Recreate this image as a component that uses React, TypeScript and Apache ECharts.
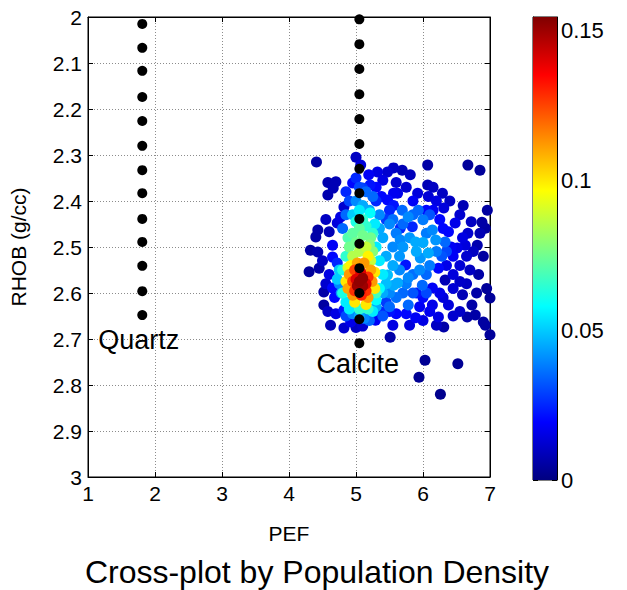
import React, { useEffect, useRef } from "react";
import * as echarts from "echarts";

// ---- data ----
const xTickValues = [1, 2, 3, 4, 5, 6, 7];
const yTickValues = [2, 2.1, 2.2, 2.3, 2.4, 2.5, 2.6, 2.7, 2.8, 2.9, 3];
const colorbarTicks = [0, 0.05, 0.1, 0.15];
const densityMax = 0.1544;

const quartzPef = 1.81;
const quartzRhob = [2.015, 2.067, 2.117, 2.174, 2.226, 2.28, 2.333, 2.383, 2.439, 2.489, 2.541, 2.596, 2.648];
const calcitePef = 5.05;
const calciteRhob = [2.005, 2.059, 2.113, 2.168, 2.222, 2.276, 2.33, 2.383, 2.439, 2.493, 2.546, 2.6, 2.657, 2.709];

const mineralLabels = [
  { name: "Quartz", pef: 1.153, rhob: 2.702 },
  { name: "Calcite", pef: 4.41, rhob: 2.754 },
];

// [PEF, RHOB, density]
const cloudOuter = [
  [4.41, 2.315, 0.005], [4.58, 2.36, 0.007], [4.7, 2.358, 0.008], [4.58, 2.387, 0.007], [4.66, 2.372, 0.008],
  [5.69, 2.333, 0.008], [5.81, 2.343, 0.009], [6.07, 2.322, 0.006], [6.07, 2.365, 0.008], [6.67, 2.322, 0.004], [6.85, 2.333, 0.004],
  [4.43, 2.463, 0.006], [4.4, 2.478, 0.006], [4.32, 2.507, 0.005], [4.43, 2.511, 0.007], [4.3, 2.554, 0.004], [4.45, 2.546, 0.006],
  [4.52, 2.598, 0.006], [4.52, 2.626, 0.005], [4.6, 2.467, 0.008],
  [6.96, 2.42, 0.005], [7.02, 2.42, 0.004], [6.88, 2.446, 0.006], [6.93, 2.459, 0.005], [6.81, 2.496, 0.007],
  [6.9, 2.52, 0.005], [6.83, 2.56, 0.006], [6.95, 2.59, 0.004], [6.8, 2.6, 0.006],
  [6.33, 2.572, 0.008], [6.59, 2.604, 0.008], [7.0, 2.611, 0.004], [6.73, 2.626, 0.006], [6.78, 2.648, 0.006], [6.9, 2.663, 0.005],
  [6.93, 2.67, 0.005], [7.0, 2.691, 0.004], [6.66, 2.652, 0.006], [6.31, 2.674, 0.006],
  [5.51, 2.696, 0.006], [6.03, 2.746, 0.003], [6.52, 2.754, 0.003], [5.94, 2.783, 0.003], [6.26, 2.82, 0.002],
  [5.0, 2.305, 0.01], [5.07, 2.322, 0.014],
  [6.6, 2.41, 0.008], [6.85, 2.47, 0.008], [4.55, 2.44, 0.01], [4.5, 2.53, 0.01], [4.58, 2.64, 0.01], [6.2, 2.67, 0.01],
];

const cloudBlue = [
  [5.19, 2.343, 0.018], [5.32, 2.337, 0.015], [5.47, 2.337, 0.012], [5.56, 2.328, 0.01], [5.1, 2.372, 0.028], [5.21, 2.365, 0.022],
  [4.95, 2.361, 0.02], [5.62, 2.383, 0.016], [5.92, 2.383, 0.014], [6.08, 2.39, 0.013], [6.29, 2.383, 0.01], [5.47, 2.398, 0.02],
  [5.56, 2.383, 0.017], [5.38, 2.39, 0.02], [5.3, 2.4, 0.025], [5.85, 2.4, 0.018], [6.2, 2.4, 0.015],
  [4.77, 2.435, 0.015], [4.72, 2.448, 0.014], [4.82, 2.413, 0.012], [6.31, 2.415, 0.014], [6.48, 2.448, 0.016], [6.38, 2.467, 0.02],
  [6.67, 2.47, 0.012], [6.55, 2.43, 0.012], [6.72, 2.445, 0.01], [6.25, 2.44, 0.02], [5.66, 2.459, 0.025], [5.84, 2.456, 0.025],
  [5.5, 2.42, 0.025], [5.45, 2.44, 0.028], [5.56, 2.41, 0.022], [6.05, 2.42, 0.02], [6.15, 2.42, 0.018],
  [4.65, 2.496, 0.018], [4.65, 2.522, 0.02], [4.72, 2.535, 0.025], [6.59, 2.48, 0.015], [6.51, 2.502, 0.016], [6.63, 2.496, 0.014],
  [6.75, 2.51, 0.01], [6.45, 2.52, 0.018], [6.23, 2.546, 0.02], [5.74, 2.539, 0.022], [6.35, 2.54, 0.016], [6.55, 2.54, 0.013], [6.7, 2.55, 0.01],
  [4.65, 2.589, 0.02], [6.14, 2.589, 0.018], [6.14, 2.626, 0.016], [6.38, 2.626, 0.014], [6.25, 2.6, 0.016], [6.45, 2.59, 0.013],
  [6.55, 2.575, 0.011], [6.0, 2.61, 0.02], [5.9, 2.6, 0.022], [4.6, 2.56, 0.015], [4.68, 2.61, 0.02],
  [4.82, 2.637, 0.022], [5.37, 2.641, 0.025], [4.82, 2.676, 0.012], [4.92, 2.663, 0.016], [5.21, 2.648, 0.02], [5.29, 2.659, 0.018],
  [5.89, 2.654, 0.018], [6.23, 2.652, 0.015], [5.5, 2.64, 0.022], [5.6, 2.645, 0.02], [5.75, 2.645, 0.02], [6.0, 2.66, 0.015],
  [6.1, 2.64, 0.017], [5.45, 2.62, 0.028], [6.45, 2.65, 0.012], [6.55, 2.64, 0.011], [4.62, 2.67, 0.008], [4.7, 2.645, 0.015],
  [5.1, 2.672, 0.012], [5.0, 2.675, 0.01],
  [5.4, 2.355, 0.015], [5.6, 2.36, 0.012], [5.75, 2.37, 0.012], [5.3, 2.37, 0.02], [6.15, 2.37, 0.01], [6.4, 2.4, 0.01],
  [6.65, 2.52, 0.012], [6.45, 2.56, 0.014], [6.65, 2.58, 0.01], [6.3, 2.61, 0.014], [5.8, 2.67, 0.014], [5.55, 2.67, 0.015],
  [4.55, 2.58, 0.012], [5.95, 2.63, 0.018], [6.3, 2.46, 0.02], [6.42, 2.5, 0.018],
];

const cloudLight = [
  [5.1, 2.41, 0.045], [5.2, 2.42, 0.045], [5.0, 2.4, 0.04], [5.15, 2.38, 0.035], [5.05, 2.37, 0.03], [4.9, 2.4, 0.03],
  [4.85, 2.43, 0.035], [5.35, 2.43, 0.04], [5.4, 2.48, 0.045], [5.45, 2.52, 0.045], [5.55, 2.5, 0.04], [5.6, 2.47, 0.038],
  [5.66, 2.485, 0.04], [5.69, 2.42, 0.035], [5.78, 2.435, 0.04], [5.93, 2.42, 0.035], [6.0, 2.441, 0.038], [5.7, 2.5, 0.042],
  [5.5, 2.45, 0.04], [5.8, 2.48, 0.042], [5.89, 2.489, 0.045], [5.9, 2.51, 0.045], [5.96, 2.524, 0.042], [6.08, 2.513, 0.045],
  [6.0, 2.49, 0.045], [6.14, 2.463, 0.04], [6.19, 2.485, 0.042], [6.33, 2.489, 0.035], [6.1, 2.54, 0.038], [6.2, 2.51, 0.038],
  [6.28, 2.52, 0.032], [5.65, 2.55, 0.04], [5.78, 2.567, 0.04], [5.75, 2.58, 0.038], [5.85, 2.56, 0.036], [5.99, 2.583, 0.035],
  [5.62, 2.578, 0.045], [5.78, 2.626, 0.035], [5.56, 2.583, 0.045], [5.47, 2.561, 0.048], [5.4, 2.6, 0.045], [5.5, 2.6, 0.04],
  [5.6, 2.61, 0.036], [5.4, 2.65, 0.032], [5.3, 2.63, 0.045], [4.8, 2.46, 0.035], [4.75, 2.58, 0.04], [4.78, 2.6, 0.042],
  [5.05, 2.65, 0.045], [5.12, 2.655, 0.04], [4.95, 2.645, 0.04], [5.25, 2.39, 0.035], [5.35, 2.46, 0.045], [4.85, 2.65, 0.03],
  [5.2, 2.66, 0.035], [6.05, 2.56, 0.035], [5.85, 2.6, 0.032], [6.35, 2.51, 0.03], [6.05, 2.6, 0.03],
  [5.55, 2.44, 0.036], [5.7, 2.45, 0.035], [5.85, 2.43, 0.035], [6.1, 2.43, 0.032], [6.05, 2.47, 0.038], [5.95, 2.55, 0.04],
  [5.55, 2.54, 0.045], [5.65, 2.52, 0.042], [5.7, 2.6, 0.035], [5.5, 2.63, 0.035], [5.45, 2.58, 0.048], [4.85, 2.38, 0.025],
  [5.0, 2.35, 0.025],
];

const cloudCore = [
  [5.28, 2.45, 0.055], [5.05, 2.42, 0.055], [4.95, 2.43, 0.05], [5.3, 2.5, 0.055], [5.35, 2.53, 0.055], [5.3, 2.615, 0.058],
  [4.85, 2.62, 0.055], [5.25, 2.64, 0.055], [5.21, 2.426, 0.058], [4.75, 2.55, 0.05], [4.72, 2.57, 0.05], [4.9, 2.635, 0.055],
  [5.35, 2.59, 0.058], [5.4, 2.56, 0.055],
  [5.15, 2.455, 0.065], [5.0, 2.445, 0.062], [5.1, 2.44, 0.065], [5.25, 2.47, 0.065], [4.85, 2.52, 0.065], [4.8, 2.55, 0.062],
  [4.8, 2.6, 0.062], [5.3, 2.6, 0.068], [5.05, 2.635, 0.065], [5.18, 2.635, 0.065], [4.88, 2.48, 0.07],
  [5.0, 2.49, 0.075], [5.1, 2.475, 0.075], [5.2, 2.495, 0.078], [4.95, 2.47, 0.072], [5.05, 2.46, 0.072], [5.25, 2.51, 0.078],
  [4.9, 2.5, 0.075], [5.22, 2.48, 0.075],
  [5.05, 2.51, 0.085], [5.15, 2.5, 0.088], [4.95, 2.52, 0.085], [5.22, 2.53, 0.088], [4.88, 2.545, 0.09],
  [4.85, 2.575, 0.1], [5.28, 2.59, 0.1], [5.28, 2.555, 0.1], [4.92, 2.54, 0.098], [5.18, 2.52, 0.098], [4.98, 2.62, 0.1], [5.15, 2.625, 0.1],
  [4.9, 2.56, 0.112], [4.88, 2.59, 0.11], [5.24, 2.575, 0.112], [5.22, 2.55, 0.11], [5.02, 2.535, 0.11], [5.12, 2.535, 0.112],
  [4.95, 2.605, 0.112], [5.18, 2.61, 0.112],
  [4.95, 2.575, 0.125], [5.18, 2.565, 0.128], [4.98, 2.55, 0.125], [5.15, 2.595, 0.128], [4.98, 2.595, 0.128], [5.08, 2.605, 0.13],
  [5.0, 2.57, 0.14], [5.15, 2.58, 0.14], [5.07, 2.555, 0.14], [5.06, 2.595, 0.142],
  [5.05, 2.575, 0.152], [5.1, 2.585, 0.15], [5.02, 2.585, 0.15], [5.1, 2.568, 0.152],
];

const jetColors = ["#000080", "#0000ff", "#0080ff", "#00ffff", "#80ff80", "#ffff00", "#ff8000", "#ff0000", "#800000"];

const FONT = "'Liberation Sans', Arial, Helvetica, sans-serif";

export default function App() {
  const ref = useRef<HTMLDivElement>(null);

  useEffect(() => {
    if (!ref.current) return;
    const chart = echarts.init(ref.current, undefined, { renderer: "svg" });

    const cloud = [...cloudOuter, ...cloudBlue, ...cloudLight, ...cloudCore]
      .slice()
      .sort((a, b) => a[2] - b[2]);

    const gradStops = jetColors.map((c, i) => ({ offset: i / (jetColors.length - 1), color: c }));

    const tickStyle = { show: true, inside: true, length: 5, lineStyle: { color: "#000", width: 1 } };

    const option: any = {
      animation: false,
      backgroundColor: "#fff",
      textStyle: { fontFamily: FONT },
      title: {
        text: "Cross-plot by Population Density",
        left: 312,
        textAlign: "center",
        top: 551,
        textStyle: { fontSize: 32, fontWeight: "normal", color: "#000", fontFamily: FONT },
      },
      visualMap: {
        type: "continuous",
        show: false,
        min: 0,
        max: densityMax,
        dimension: 2,
        seriesIndex: 0,
        inRange: { color: jetColors },
      },
      grid: [
        { left: 87, right: 137, top: 17, bottom: 113, show: true, borderColor: "#000", borderWidth: 1, backgroundColor: "#fff" },
        { left: 533, width: 24, top: 17, height: 463, show: true, borderColor: "#000", borderWidth: 1 },
      ],
      xAxis: [
        {
          gridIndex: 0, type: "value", min: 1, max: 7, interval: 1, position: "bottom",
          name: "PEF", nameLocation: "middle", nameGap: 46,
          nameTextStyle: { fontSize: 21, color: "#000", fontFamily: FONT },
          axisLine: { show: true, lineStyle: { color: "#000" } },
          axisTick: tickStyle,
          axisLabel: { fontSize: 21, color: "#000", margin: 6, fontFamily: FONT },
          splitLine: { show: true, lineStyle: { color: "#8c8c8c", type: [1, 2], width: 1 } },
        },
        {
          gridIndex: 0, type: "value", min: 1, max: 7, interval: 1, position: "top",
          axisLine: { show: true, lineStyle: { color: "#000" } },
          axisTick: tickStyle, axisLabel: { show: false }, splitLine: { show: false },
        },
        {
          gridIndex: 1, type: "category", data: ["c"], show: false,
        },
      ],
      yAxis: [
        {
          gridIndex: 0, type: "value", min: 2, max: 3, interval: 0.1, inverse: true, position: "left",
          name: "RHOB (g/cc)", nameLocation: "middle", nameGap: 59, nameRotate: 90,
          nameTextStyle: { fontSize: 21, color: "#000", fontFamily: FONT },
          axisLine: { show: true, lineStyle: { color: "#000" } },
          axisTick: tickStyle,
          axisLabel: { fontSize: 21, color: "#000", margin: 6, fontFamily: FONT },
          splitLine: { show: true, lineStyle: { color: "#8c8c8c", type: [1, 2], width: 1 } },
        },
        {
          gridIndex: 0, type: "value", min: 2, max: 3, interval: 0.1, inverse: true, position: "right",
          axisLine: { show: true, lineStyle: { color: "#000" } },
          axisTick: tickStyle, axisLabel: { show: false }, splitLine: { show: false },
        },
        {
          gridIndex: 1, type: "value", min: 0, max: densityMax, interval: 0.05, position: "right",
          axisLine: { show: true, lineStyle: { color: "#000" } },
          axisTick: tickStyle,
          axisLabel: {
            fontSize: 22, color: "#000", margin: 4, fontFamily: FONT,
            formatter: (v: number) => (colorbarTicks.some((t) => Math.abs(t - v) < 1e-9) ? String(+v.toFixed(2)) : ""),
          },
          splitLine: { show: false },
        },
        {
          gridIndex: 1, type: "value", min: 0, max: densityMax, interval: 0.05, position: "left",
          axisLine: { show: true, lineStyle: { color: "#000" } },
          axisTick: tickStyle, axisLabel: { show: false }, splitLine: { show: false },
        },
      ],
      series: [
        {
          type: "scatter",
          xAxisIndex: 0, yAxisIndex: 0,
          symbolSize: 11,
          data: cloud,
          itemStyle: { opacity: 1 },
          z: 2,
        },
        {
          type: "scatter",
          xAxisIndex: 0, yAxisIndex: 0,
          symbolSize: 10,
          itemStyle: { color: "#000", opacity: 1 },
          data: [
            ...quartzRhob.map((r) => [quartzPef, r]),
            ...calciteRhob.map((r) => [calcitePef, r]),
          ],
          z: 3,
        },
        {
          type: "scatter",
          xAxisIndex: 0, yAxisIndex: 0,
          symbolSize: 0,
          silent: true,
          itemStyle: { opacity: 1 },
          data: mineralLabels.map((m) => ({ value: [m.pef, m.rhob], name: m.name })),
          label: {
            show: true, position: "right", distance: 0, formatter: "{b}",
            fontSize: 27, color: "#000", opacity: 1, fontFamily: FONT,
          },
          z: 4,
        },
        {
          type: "bar",
          xAxisIndex: 2, yAxisIndex: 2,
          barWidth: "100%",
          silent: true,
          data: [densityMax],
          itemStyle: { color: new echarts.graphic.LinearGradient(0, 1, 0, 0, gradStops) },
        },
      ],
    };

    chart.setOption(option);
    return () => chart.dispose();
  }, []);

  return (
    <div
      ref={ref}
      style={{ position: "fixed", left: 0, top: 0, width: 627, height: 590, background: "#fff" }}
    />
  );
}
